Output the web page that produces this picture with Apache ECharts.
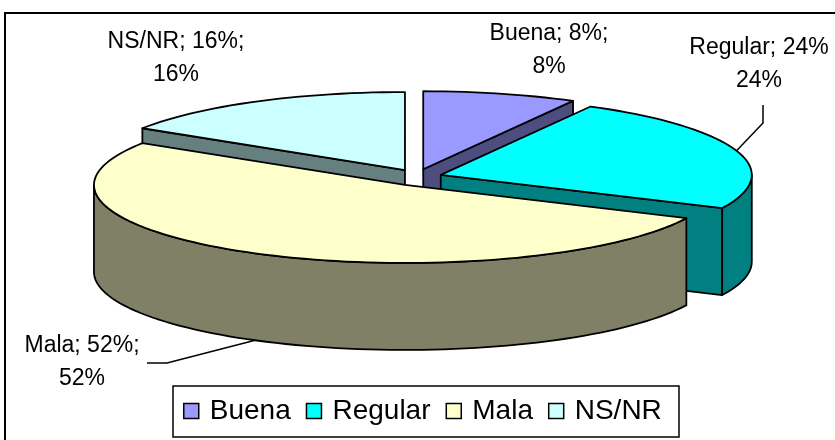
<!DOCTYPE html>
<html>
<head>
<meta charset="utf-8">
<script src="https://cdn.jsdelivr.net/npm/echarts@6/dist/echarts.min.js"></script>
<style>
html, body { margin: 0; padding: 0; background: #fff; }
#main { width: 835px; height: 440px; }
</style>
</head>
<body>
<div id="main"></div>
<script>
var categories = ['Buena', 'Regular', 'Mala', 'NS/NR'];
var values = [8, 24, 52, 16];
var topColors = ['#9999FF', '#00FFFF', '#FFFFCC', '#CCFFFF'];
var sideColors = ['#4D4D80', '#008080', '#808066', '#668080'];

// pie geometry (px)
var CX = 417, CY = 177.5, RX = 311, RY = 78, DEPTH = 87;
var EXPLODE_X = 25, EXPLODE_Y = 8.5;
var FONT = '23px "Liberation Sans", Arial, sans-serif';

// label block centres and leader line elbows
var labelPos = [[549, 50], [759, 64], [82, 362], [176, 58]];
var leaders = [null, [[763, 123], [763, 105]], [[167, 363], [147, 363]], null];
var labelSep = [';', '', ';', ';'];

var total = values.reduce(function (a, b) { return a + b; }, 0);
var starts = [], ends = [], acc = 0;
values.forEach(function (v) {
  starts.push(acc / total * 360);
  acc += v;
  ends.push(acc / total * 360);
});

function rad(a) { return a * Math.PI / 180; }

function makeRender(i) {
  return function (params, api) {
    var v = api.value(0);
    var pct = Math.round(v / total * 100);
    var a0 = starts[i], a1 = ends[i];
    var m = rad((a0 + a1) / 2);
    var ox = CX + EXPLODE_X * Math.sin(m), oy = CY - EXPLODE_Y * Math.cos(m);
    function pt(a, dz) {
      return [ox + RX * Math.sin(rad(a)), oy - RY * Math.cos(rad(a)) + (dz || 0)];
    }
    function arc(from, to, dz) {
      var pts = [], n = Math.max(2, Math.ceil(Math.abs(to - from) / 2));
      for (var k = 0; k <= n; k++) pts.push(pt(from + (to - from) * k / n, dz));
      return pts;
    }
    function face(points, fill) {
      return {
        type: 'polygon',
        shape: { points: points },
        style: { fill: fill, stroke: '#000', lineWidth: 1.8, lineJoin: 'round' }
      };
    }
    var apex = [ox, oy], apexB = [ox, oy + DEPTH];
    var kids = [];
    // radial walls facing the viewer
    if (Math.sin(rad(a0)) < -1e-6) kids.push(face([apex, pt(a0), pt(a0, DEPTH), apexB], sideColors[i]));
    if (Math.sin(rad(a1)) > 1e-6) kids.push(face([apex, pt(a1), pt(a1, DEPTH), apexB], sideColors[i]));
    // front part of the outer rim
    var s = Math.max(a0, 90), e = Math.min(a1, 270);
    if (s < e) kids.push(face(arc(s, e, 0).concat(arc(e, s, DEPTH)), sideColors[i]));
    // top
    kids.push(face([apex].concat(arc(a0, a1, 0)), topColors[i]));

    if (leaders[i]) {
      var front = Math.cos(m) < 0;
      var anchor = pt((a0 + a1) / 2, front ? DEPTH : 0);
      kids.push({
        type: 'polyline',
        shape: { points: [anchor].concat(leaders[i]) },
        style: { stroke: '#000', lineWidth: 1.5, fill: null }
      });
    }
    kids.push({
      type: 'text',
      z2: 50,
      style: {
        text: categories[i] + '; ' + pct + '%' + labelSep[i] + '\n' + pct + '%',
        x: labelPos[i][0],
        y: labelPos[i][1],
        font: FONT,
        fill: '#000',
        align: 'center',
        verticalAlign: 'middle',
        lineHeight: 33
      }
    });
    return { type: 'group', children: kids };
  };
}

// paint back slices first
var depthKey = starts.map(function (s, i) { return -Math.cos(rad((s + ends[i]) / 2)); });
var order = depthKey.map(function (d, i) { return i; }).sort(function (a, b) { return depthKey[a] - depthKey[b]; });
var zOf = [];
order.forEach(function (idx, r) { zOf[idx] = 2 + r; });

var chart = echarts.init(document.getElementById('main'));
chart.setOption({
  animation: false,
  graphic: [
    { type: 'rect', silent: true, shape: { x: 5, y: 13, width: 850, height: 450 },
      style: { fill: 'none', stroke: '#000', lineWidth: 2 } },
    { type: 'rect', silent: true, shape: { x: 173, y: 386, width: 506, height: 51 },
      style: { fill: '#fff', stroke: '#000', lineWidth: 1.5 } }
  ],
  legend: {
    data: categories,
    left: 183,
    top: 397,
    padding: 0,
    itemGap: 15,
    itemWidth: 15,
    itemHeight: 15,
    icon: 'rect',
    itemStyle: { borderColor: '#000', borderWidth: 1.5 },
    textStyle: { fontSize: 28, fontFamily: '"Liberation Sans", Arial, sans-serif', color: '#000', padding: [0, 0, 0, 6] }
  },
  series: categories.map(function (name, i) {
    return {
      type: 'custom',
      name: name,
      coordinateSystem: 'none',
      z: zOf[i],
      itemStyle: { color: topColors[i] },
      renderItem: makeRender(i),
      data: [[values[i]]]
    };
  })
});
</script>
</body>
</html>
